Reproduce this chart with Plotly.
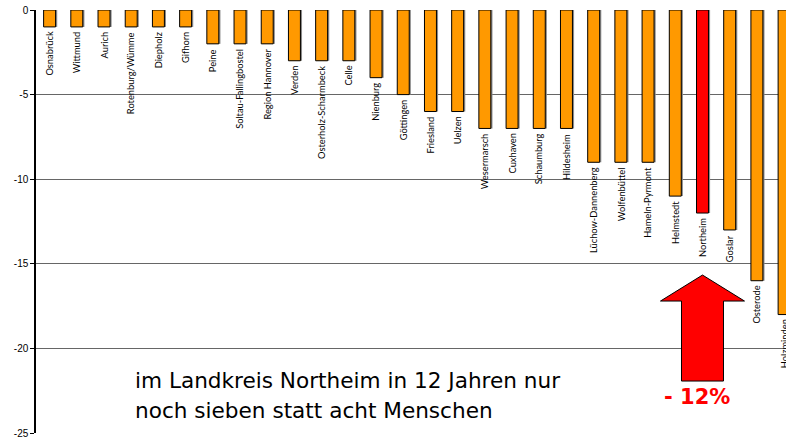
import plotly.graph_objects as go

kreise = ["Osnabrück", "Wittmund", "Aurich", "Rotenburg/Wümme", "Diepholz", "Gifhorn",
          "Peine", "Soltau-Fallingbostel", "Region Hannover", "Verden",
          "Osterholz-Scharmbeck", "Celle", "Nienburg", "Göttingen", "Friesland",
          "Uelzen", "Wesermarsch", "Cuxhaven", "Schaumburg", "Hildesheim",
          "Lüchow-Dannenberg", "Wolfenbüttel", "Hameln-Pyrmont", "Helmstedt",
          "Northeim", "Goslar", "Osterode", "Holzminden"]
veraenderung = [-1, -1, -1, -1, -1, -1, -2, -2, -2, -3, -3, -3, -4, -5, -6, -6,
                -7, -7, -7, -7, -9, -9, -9, -11, -12, -13, -16, -18]
highlight = "Northeim"
y_ticks = [0, -5, -10, -15, -20, -25]

colors = ["#FF0000" if k == highlight else "#FF9900" for k in kreise]
idx = list(range(len(kreise)))

fig = go.Figure()
# shadow
fig.add_trace(go.Bar(x=[i + 0.06 for i in idx], y=veraenderung, width=0.44,
                     marker=dict(color="#8a8a8a", line=dict(width=0)),
                     hoverinfo="skip", showlegend=False))
fig.add_trace(go.Bar(x=idx, y=veraenderung, width=0.44,
                     marker=dict(color=colors, line=dict(color="black", width=1)),
                     showlegend=False))

for i, (k, v) in enumerate(zip(kreise, veraenderung)):
    fig.add_annotation(x=i, y=v, xref="x", yref="y", text=k, showarrow=False,
                       textangle=-90, xanchor="center", yanchor="top", yshift=-3,
                       font=dict(family="Lato", size=9.3, color="black"))

hi = kreise.index(highlight)
# arrow shape anchored at highlighted bar (pixel offsets)
arrow = "M 0 -62 L 42 -88 L 21 -88 L 21 -168 L -21 -168 L -21 -88 L -42 -88 Z"
fig.add_shape(type="path", xref="x", yref="y", xsizemode="pixel", ysizemode="pixel",
              xanchor=hi, yanchor=veraenderung[hi], path=arrow,
              fillcolor="#FF0000", line=dict(color="black", width=1))

fig.add_annotation(x=hi - 0.2, y=-22.9, xref="x", yref="y", text="<b>- 12%</b>",
                   showarrow=False, xanchor="center", yanchor="middle",
                   font=dict(family="DejaVu Sans", size=21, color="#FF0000"))

fig.add_annotation(x=0.129, y=0.125, xref="paper", yref="paper",
                   text="im Landkreis Northeim in 12 Jahren nur", showarrow=False,
                   xanchor="left", yanchor="middle",
                   font=dict(family="DejaVu Sans", size=21.6, color="black"))
fig.add_annotation(x=0.129, y=0.054, xref="paper", yref="paper",
                   text="noch sieben statt acht Menschen", showarrow=False,
                   xanchor="left", yanchor="middle",
                   font=dict(family="DejaVu Sans", size=21.6, color="black"))

fig.update_layout(
    width=786, height=441,
    margin=dict(l=36, r=0, t=10, b=8, autoexpand=False),
    paper_bgcolor="white", plot_bgcolor="white",
    barmode="overlay",
    xaxis=dict(range=[-0.5, 27.07], showticklabels=False, showgrid=False,
               zeroline=False, showline=False, ticks="", automargin=False),
    yaxis=dict(range=[-25, 0], tickvals=y_ticks, ticktext=[str(t) for t in y_ticks],
               showgrid=True, gridcolor="#666666", gridwidth=1.3, zeroline=False,
               showline=True, linecolor="black", linewidth=1.5,
               ticks="outside", ticklen=4, tickcolor="black", automargin=False,
               tickfont=dict(family="Liberation Sans Narrow, Liberation Sans", size=10, color="black")),
)

fig.write_html("out.html", config={"displayModeBar": False},
               post_script="document.body.style.margin='0';document.body.style.overflow='hidden';")
